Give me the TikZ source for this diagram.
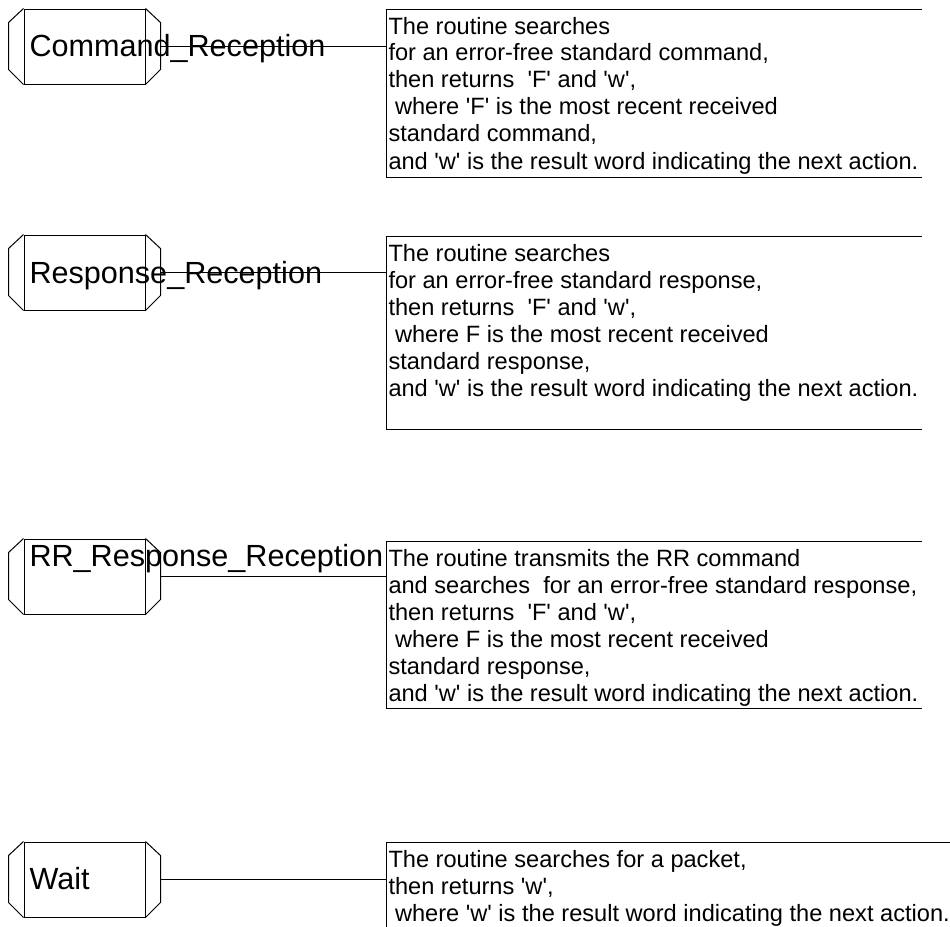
\documentclass[tikz,border=0pt]{standalone}
\usepackage{fontspec}
\newfontfamily\arialf{Liberation Sans}
\usetikzlibrary{calc}
\newcommand\drawcaps[1]{%
  \draw (#1.north west) -- ++(-15,14) -- ++(0,47) -- (#1.south west);
  \draw (#1.north east) -- ++(15,14) -- ++(0,47) -- (#1.south east);
  \coordinate (#1R) at ($(#1.east)+(15,0)$);}
\begin{document}
\begin{tikzpicture}[x=1pt,y=-1pt,line width=1pt,
  core/.style={draw, minimum width=121pt, minimum height=75pt, inner sep=0pt},
  biglbl/.style={anchor=base west, inner sep=0pt, font=\arialf\fontsize{30.6}{30.6}\selectfont},
  desc/.style={anchor=base west, inner sep=0pt, font=\arialf\fontsize{23.6}{27}\selectfont},
  frame/.style={inner sep=0pt, anchor=north west}]
\useasboundingbox (0,0) rectangle (950,926);

% shapes
\node[core] (s1) at (84.5,46.5) {};
\node[core] (s2) at (84.5,272.5) {};
\node[core] (s3) at (84.5,576.5) {};
\node[core] (s4) at (84.5,879.5) {};
\drawcaps{s1}
\drawcaps{s2}
\drawcaps{s3}
\drawcaps{s4}

% boxes
\node[frame, minimum width=535pt, minimum height=167pt] (b1) at (386,9) {};
\node[frame, minimum width=535pt, minimum height=192pt] (b2) at (386,236) {};
\node[frame, minimum width=535pt, minimum height=166pt] (b3) at (386,541) {};
\node[frame, minimum width=564pt, minimum height=84pt] (b4) at (386,842) {};
\draw (b1.north east) -- (b1.north west) -- (b1.south west) -- (b1.south east);
\draw (b2.north east) -- (b2.north west) -- (b2.south west) -- (b2.south east);
\draw (b3.north east) -- (b3.north west) -- (b3.south west) -- (b3.south east);
\draw (b4.north east) -- (b4.north west) -- (b4.south west);

% connectors
\draw (s1R) -- (s1R -| b1.west);
\draw (s2R) -- (s2R -| b2.west);
\draw (s3R) -- (s3R -| b3.west);
\draw (s4R) -- (s4R -| b4.west);

% labels
\node[biglbl] (l1) at (29,56) {Command\_Reception};
\node[biglbl] (l2) at (29,283) {Response\_Reception};
\node[biglbl] (l3) at (29,566) {RR\_Response\_Reception};
\node[biglbl] (l4) at (29,889) {Wait};

% descriptions
\node[desc] (t1) at (388,34) {\vtop{%
  \hbox{The routine searches}
  \hbox{for an error-free standard command,}
  \hbox{then returns\ \ 'F' and 'w',}
  \hbox{\ where 'F' is the most recent received}
  \hbox{standard command,}
  \hbox{and 'w' is the result word indicating the next action.}}};
\node[desc] (t2) at (388,261) {\vtop{%
  \hbox{The routine searches}
  \hbox{for an error-free standard response,}
  \hbox{then returns\ \ 'F' and 'w',}
  \hbox{\ where F is the most recent received}
  \hbox{standard response,}
  \hbox{and 'w' is the result word indicating the next action.}}};
\node[desc] (t3) at (388,566) {\vtop{%
  \hbox{The routine transmits the RR command}
  \hbox{and searches\ \ for an error-free standard response,}
  \hbox{then returns\ \ 'F' and 'w',}
  \hbox{\ where F is the most recent received}
  \hbox{standard response,}
  \hbox{and 'w' is the result word indicating the next action.}}};
\node[desc] (t4) at (388,867) {\vtop{%
  \hbox{The routine searches for a packet,}
  \hbox{then returns 'w',}
  \hbox{\ where 'w' is the result word indicating the next action.}}};
\end{tikzpicture}
\end{document}
